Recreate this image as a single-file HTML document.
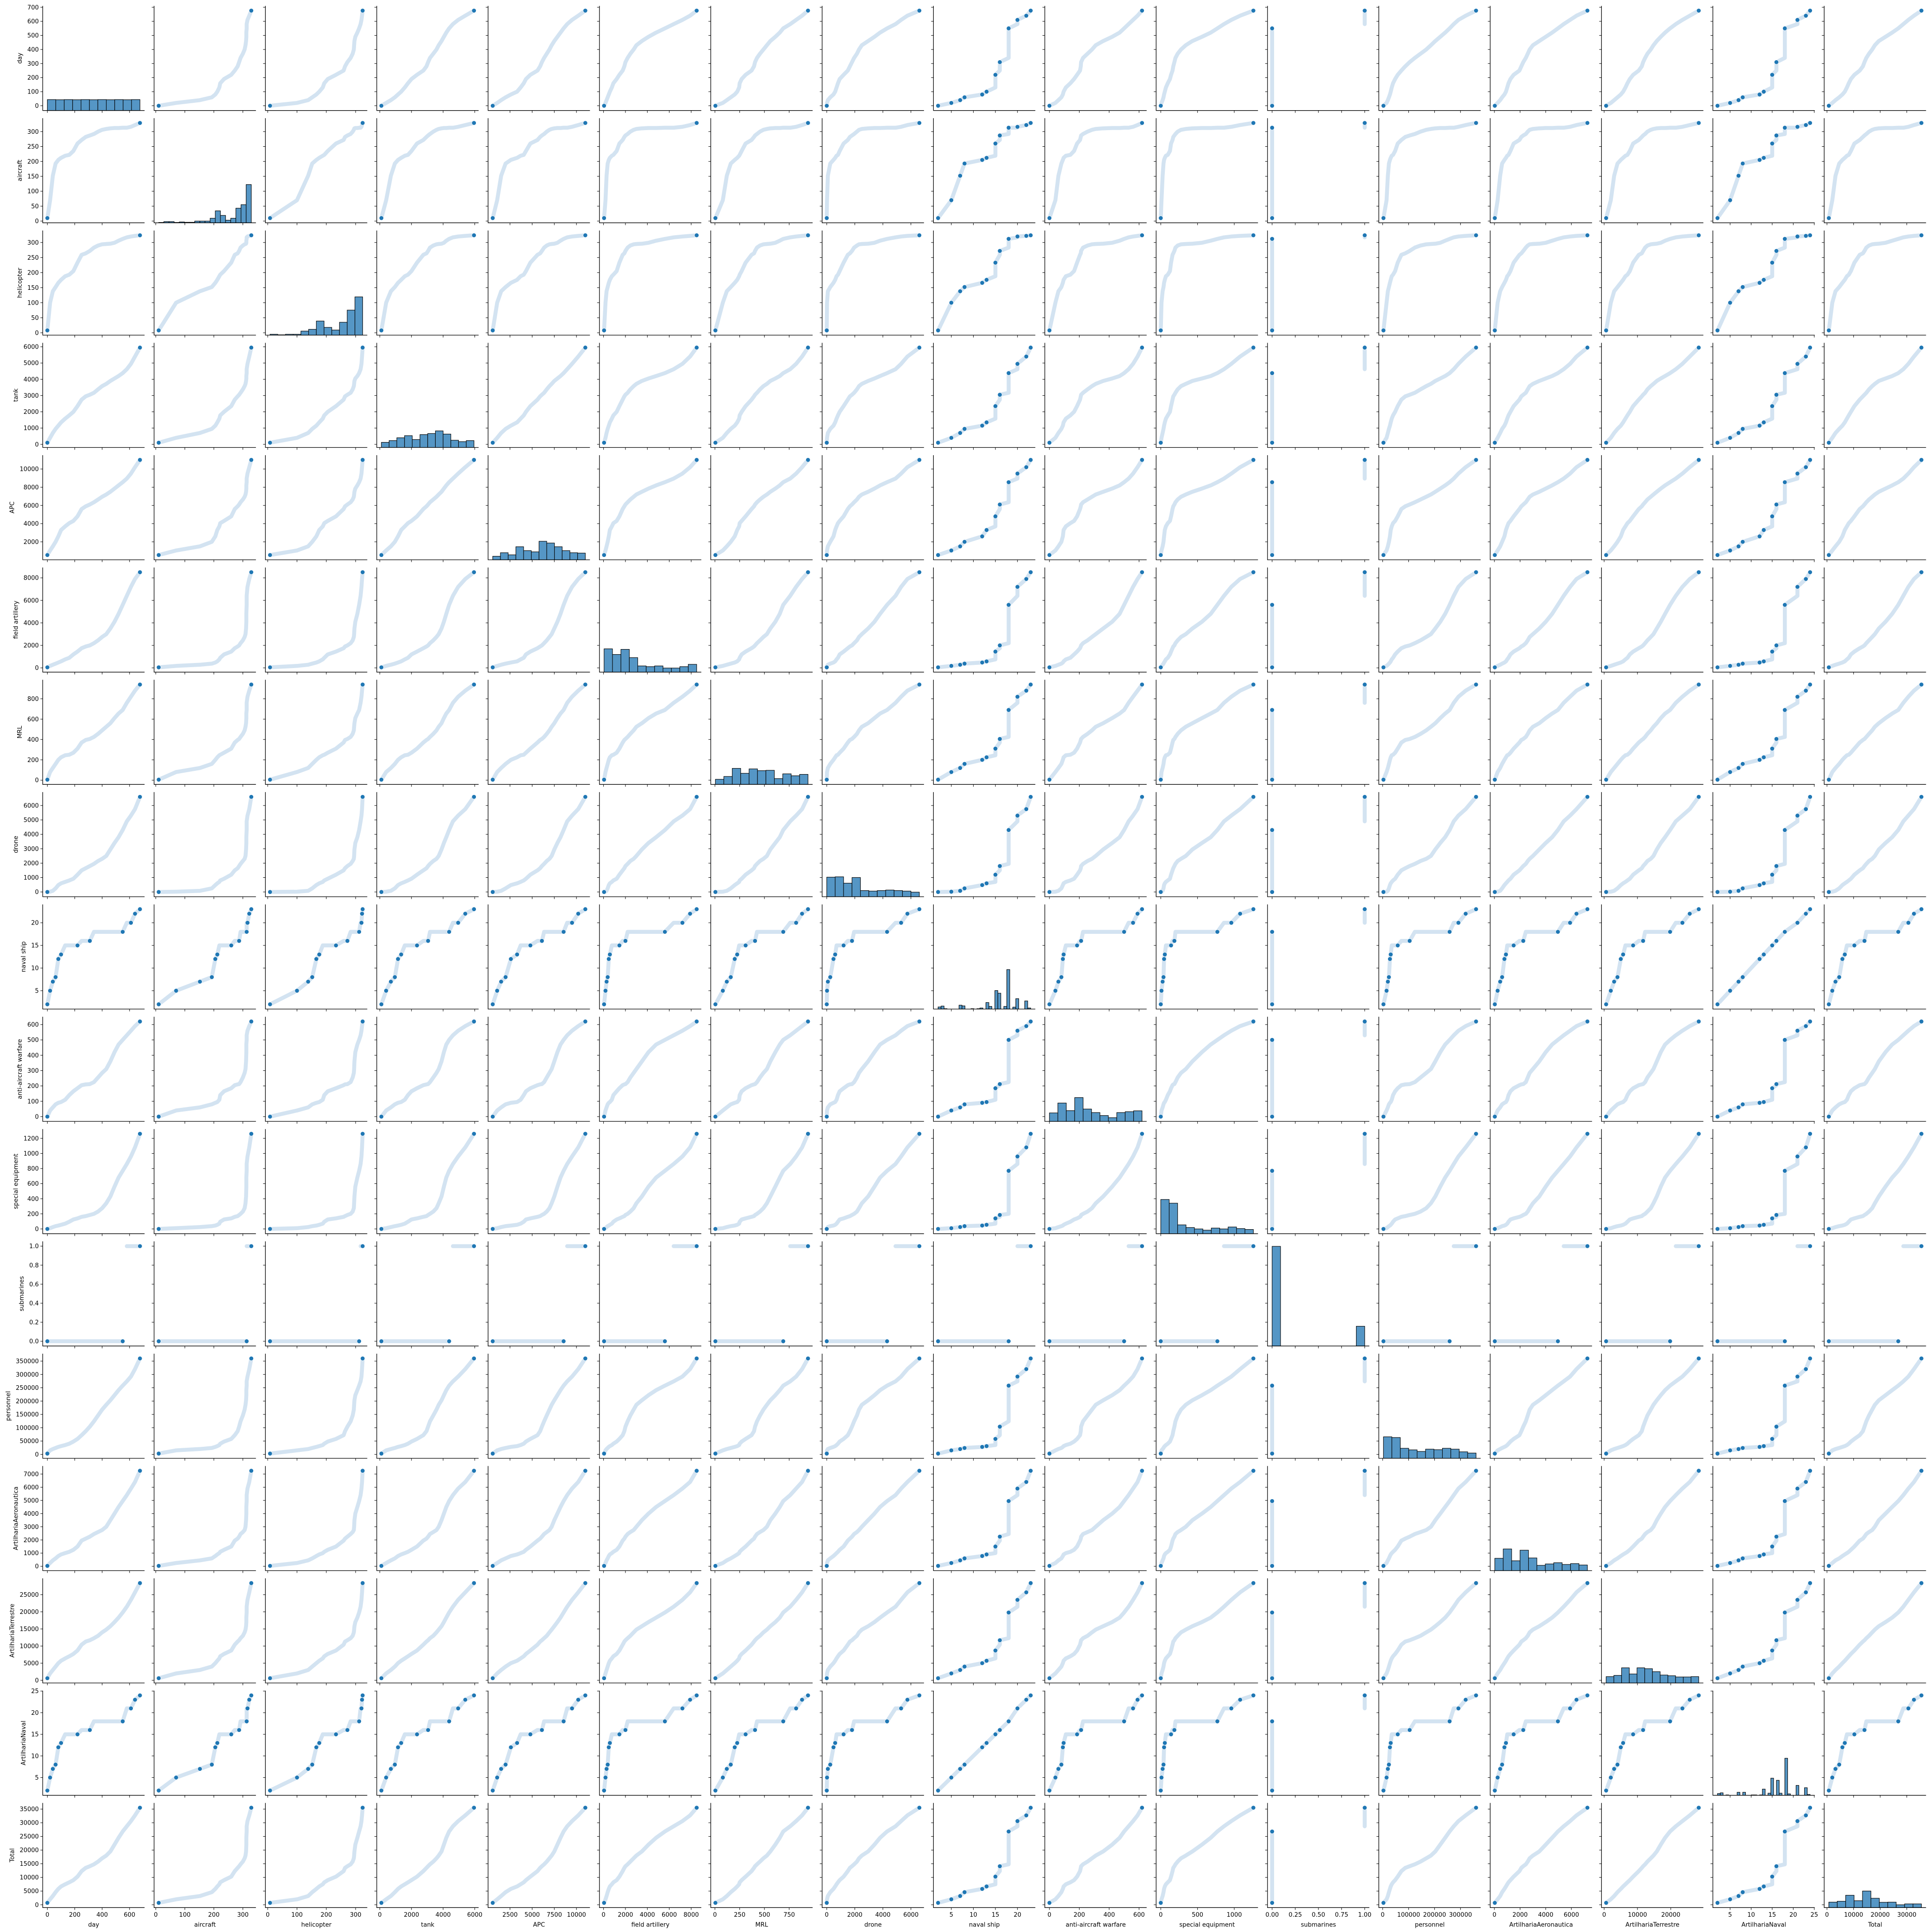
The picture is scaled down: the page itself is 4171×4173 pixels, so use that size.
<!DOCTYPE html>
<html>
<head>
<meta charset="utf-8">
<style>
html,body{margin:0;padding:0;background:#fff;}
svg{display:block;font-family:"DejaVu Sans","Liberation Sans",sans-serif;}
</style>
</head>
<body>
<svg id="chart" xmlns="http://www.w3.org/2000/svg" width="4171" height="4173" viewBox="0 0 4171 4173">
<rect x="0" y="0" width="4171" height="4173" fill="#fff"/>
</svg>
<script>
// ---- data: sampled days and variable values at those days ----
const days = [0,20,40,60,80,100,130,160,190,220,250,280,310,340,370,400,430,460,490,520,550,580,610,640,676];
const aircraft = [10,70,152,193,205,212,219,222,235,260,272,282,287,292,300,306,309,311,312,312,313,313,316,322,329];
const helicopter = [8,100,138,152,166,176,188,193,205,233,259,264,272,283,290,294,295,296,299,306,312,317,320,322,324];
const tank = [100,400,700,950,1150,1350,1580,1780,2000,2350,2750,2950,3050,3170,3380,3580,3720,3900,4050,4200,4380,4620,4950,5400,5950];
const apc = [550,1050,1500,2000,2600,3300,3700,4050,4300,4800,5600,5900,6100,6350,6650,6950,7200,7500,7850,8200,8550,8950,9500,10200,11000];
const fieldArtillery = [50,180,280,380,480,580,760,900,1200,1450,1750,1900,2000,2200,2450,2750,3000,3500,4100,4800,5600,6400,7200,7900,8500];
const mrl = [5,80,120,160,200,225,245,250,270,310,370,395,405,425,455,490,525,560,610,655,690,760,820,880,940];
const drone = [0,20,80,250,480,600,700,800,920,1200,1500,1650,1800,1950,2150,2300,2500,2950,3400,3800,4300,4900,5300,5750,6600];
const navalShip = [2,5,7,8,12,13,15,15,15,15,16,16,16,18,18,18,18,18,18,18,18,20,20,22,23];
const antiAircraft = [0,40,60,80,90,95,110,140,165,185,205,210,212,225,255,285,310,360,420,470,500,530,560,590,620];
const specialEquipment = [0,10,25,37,45,55,70,95,125,140,160,170,185,200,230,275,340,430,560,680,770,860,960,1080,1260];
const submarines = [0,0,0,0,0,0,0,0,0,0,0,0,0,0,0,0,0,0,0,0,0,1,1,1,1];
const personnel = [3000,15000,20000,24000,28000,31000,35000,40000,48000,58000,72000,87000,104000,124000,146000,168000,186000,203000,222000,241000,258000,274000,292000,320000,360000];
const artAero = [30,250,450,600,780,900,1000,1100,1250,1500,1950,2100,2250,2450,2600,2750,3000,3500,4000,4500,4950,5400,5900,6400,7250];
const artTerr = [600,2000,3000,4000,5000,5700,6400,7000,7700,8700,10400,11300,11700,12300,13000,14000,14800,15800,17000,18300,19800,21500,23500,25700,28400];
const artNaval = [2,5,7,8,12,13,15,15,15,15,16,16,16,18,18,18,18,18,18,18,18,21,21,23,24];
const total = [700,2000,3200,4600,5800,6700,7500,8200,9000,10300,12300,13500,14100,14800,15800,17000,18000,19500,22000,24500,26800,28700,30600,32700,35500];

// ---- histogram counts (diagonal) ----
const histDay = [62,61,62,61,62,61,62,61,62,61,62];
const histAircraft = [2,7,7,2,5,3,3,10,10,10,26,68,42,15,26,83,103,217];
const histHelicopter = [5,2,5,5,23,33,80,44,29,73,142,217];
const histTank = [29,39,55,67,45,73,79,94,76,41,33,39];
const histApc = [20,40,28,74,52,45,105,95,74,52,40,38];
const histFieldArtillery = [132,100,129,82,35,31,35,23,23,31,44];
const histMrl = [29,45,91,63,88,78,80,33,60,49,57];
const histDrone = [111,113,77,109,35,32,35,38,35,32,26];
const histNavalShip = [12,17,2,0,0,0,0,22,18,0,0,2,0,2,6,0,37,15,0,105,90,0,15,224,0,11,59,0,0,46,6];
const histAntiAircraft = [48,104,61,135,70,50,33,21,50,55,60];
const histSpecialEquipment = [194,173,50,35,27,20,32,27,38,29,24];
const histSubmarines = [565,0,0,0,0,0,0,0,0,0,112];
const histPersonnel = [122,118,57,48,39,52,49,57,52,37,30];
const histArtAero = [70,123,56,116,72,30,38,45,35,40,32];
const histArtTerr = [36,43,86,51,86,81,64,45,41,34,34,36];
const histArtNaval = [10,14,0,2,0,0,0,17,0,17,0,0,2,2,0,2,35,0,12,97,0,85,12,0,210,8,0,0,56,0,0,43,5];
const histTotal = [31,36,70,39,94,53,30,31,16,21,21];

// ---- names and ticks ----
const varNames = ["day","aircraft","helicopter","tank","APC","field artillery","MRL","drone","naval ship","anti-aircraft warfare","special equipment","submarines","personnel","ArtilhariaAeronautica","ArtilhariaTerrestre","ArtilhariaNaval","Total"];
const yTickValues = [
 [0,100,200,300,400,500,600,700],[0,50,100,150,200,250,300],[0,50,100,150,200,250,300],[0,1000,2000,3000,4000,5000,6000],
 [0,2000,4000,6000,8000,10000],[0,2000,4000,6000,8000],[0,200,400,600,800],[0,1000,2000,3000,4000,5000,6000],
 [5,10,15,20],[0,100,200,300,400,500,600],[0,200,400,600,800,1000,1200],[0,0.2,0.4,0.6,0.8,1.0],
 [0,50000,100000,150000,200000,250000,300000,350000],[0,1000,2000,3000,4000,5000,6000,7000],[0,5000,10000,15000,20000,25000],[5,10,15,20,25],[0,5000,10000,15000,20000,25000,30000,35000]];
const yTickLabels = [
 ["0","100","200","300","400","500","600","700"],["0","50","100","150","200","250","300"],["0","50","100","150","200","250","300"],["0","1000","2000","3000","4000","5000","6000"],
 ["0","2000","4000","6000","8000","10000"],["0","2000","4000","6000","8000"],["0","200","400","600","800"],["0","1000","2000","3000","4000","5000","6000"],
 ["5","10","15","20"],["0","100","200","300","400","500","600"],["0","200","400","600","800","1000","1200"],["0.0","0.2","0.4","0.6","0.8","1.0"],
 ["0","50000","100000","150000","200000","250000","300000","350000"],["0","1000","2000","3000","4000","5000","6000","7000"],["0","5000","10000","15000","20000","25000"],["5","10","15","20","25"],["0","5000","10000","15000","20000","25000","30000","35000"]];
const xTickValues = [
 [0,200,400,600],[0,100,200,300],[0,100,200,300],[0,2000,4000,6000],[0,2500,5000,7500,10000],[0,2000,4000,6000,8000],
 [0,250,500,750],[0,2000,4000,6000],[5,10,15,20],[0,200,400,600],[0,500,1000],[0,0.25,0.5,0.75,1.0],
 [0,100000,200000,300000],[0,2000,4000,6000],[0,10000,20000],[5,10,15,20,25],[0,10000,20000,30000]];
const xTickLabels = [
 ["0","200","400","600"],["0","100","200","300"],["0","100","200","300"],["0","2000","4000","6000"],["0","2500","5000","7500","10000"],["0","2000","4000","6000","8000"],
 ["0","250","500","750"],["0","2000","4000","6000"],["5","10","15","20"],["0","200","400","600"],["0","500","1000"],["0.00","0.25","0.50","0.75","1.00"],
 ["0","100000","200000","300000"],["0","2000","4000","6000"],["0","10000","20000"],["5","10","15","20","25"],["0","10000","20000","30000"]];

const series = [days,aircraft,helicopter,tank,apc,fieldArtillery,mrl,drone,navalShip,antiAircraft,specialEquipment,submarines,personnel,artAero,artTerr,artNaval,total];
const hists = [histDay,histAircraft,histHelicopter,histTank,histApc,histFieldArtillery,histMrl,histDrone,histNavalShip,histAntiAircraft,histSpecialEquipment,histSubmarines,histPersonnel,histArtAero,histArtTerr,histArtNaval,histTotal];
const SUB = 11;
const STEP_VARS = [8, 15];

// ---- layout ----
const L0 = 92.3, PX = 240.5, W = 220, T0 = 12.7, PY = 242.6, H = 226;
const NS = "http://www.w3.org/2000/svg";
const svg = document.getElementById("chart");
const N = series.length;

const ranges = series.map(s => {
  const mn = Math.min(...s), mx = Math.max(...s);
  const pad = (mx - mn) * 0.05 || 0.5;
  return {min: mn, max: mx, lo: mn - pad, hi: mx + pad};
});
function xScale(v, vi, col) { const r = ranges[vi]; return L0 + PX * col + (v - r.lo) / (r.hi - r.lo) * W; }
function yScale(v, vi, row) { const r = ranges[vi]; return T0 + PY * row + H - (v - r.lo) / (r.hi - r.lo) * H; }
let maxCount = 0;
hists.forEach(h => h.forEach(c => { if (c > maxCount) maxCount = c; }));
const histTop = maxCount * 1.05;

function mk(tag, attrs, parent) {
  const e = document.createElementNS(NS, tag);
  for (const k in attrs) e.setAttribute(k, attrs[k]);
  (parent || svg).appendChild(e);
  return e;
}
function slug(s) { return s.toLowerCase().replace(/[^a-z0-9]+/g, "-"); }

for (let row = 0; row < N; row++) {
  for (let col = 0; col < N; col++) {
    const px0 = L0 + PX * col, py0 = T0 + PY * row;
    const g = mk("g", {});
    
    

    if (row === col) {
      const h = hists[row], r = ranges[row];
      const bw = (r.max - r.min) / h.length;
      for (let b = 0; b < h.length; b++) {
        if (h[b] <= 0) continue;
        const x1 = xScale(r.min + b * bw, row, col), x2 = xScale(r.min + (b + 1) * bw, row, col);
        const hh = h[b] / histTop * H;
        const bar = mk("rect", {x: x1, y: py0 + H - hh, width: Math.max(x2 - x1, 0.5), height: hh, fill: "#5596c5", stroke: "#000", "stroke-width": 1.1}, g);
        
        
      }
    } else {
      const xs = series[col], ys = series[row];
      const subPanel = (row === SUB || col === SUB);
      const stepPanel = STEP_VARS.includes(row) || STEP_VARS.includes(col);
      const pts = xs.map((v, k) => [xScale(v, col, col), yScale(ys[k], row, row)]);
      let d = "";
      for (let k = 0; k < pts.length; k++) {
        const brk = k > 0 && subPanel && submarines[k] !== submarines[k - 1];
        d += (k === 0 || brk ? "M" : "L") + pts[k][0].toFixed(1) + " " + pts[k][1].toFixed(1);
      }
      const band = mk("path", {d: d, fill: "none", stroke: "#d3e3f1", "stroke-width": 8.5, "stroke-linecap": "round", "stroke-linejoin": "round"}, g);
      
      
      for (let k = 0; k < pts.length; k++) {
        const prev = k > 0 ? Math.hypot(pts[k][0] - pts[k - 1][0], pts[k][1] - pts[k - 1][1]) : 99;
        const next = k < pts.length - 1 ? Math.hypot(pts[k][0] - pts[k + 1][0], pts[k][1] - pts[k + 1][1]) : 99;
        let show = (k === pts.length - 1) || (k === 0);
        if (subPanel) {
          show = show || (k < pts.length - 1 && submarines[k] !== submarines[k + 1]);
        } else if (stepPanel) {
          const sv = STEP_VARS.includes(col) ? xs : ys;
          const changeNext = k < pts.length - 1 && sv[k] !== sv[k + 1];
          show = show || (changeNext && next > 6);
        }
        if (show) {
          const dot = mk("circle", {cx: pts[k][0], cy: pts[k][1], r: 4.7, fill: "#1f77b4", stroke: "#fff", "stroke-width": 0.7}, g);
          
          
        }
      }
    }

    // spines
    const sp = mk("path", {d: `M${px0} ${py0}V${py0 + H}H${px0 + W}`, fill: "none", stroke: "#000", "stroke-width": 1.3}, g);
    
    

    // y ticks (row variable)
    const yt = yTickValues[row];
    for (let t = 0; t < yt.length; t++) {
      const y = yScale(yt[t], row, row);
      if (y < py0 - 0.5 || y > py0 + H + 0.5) continue;
      const tk = mk("line", {x1: px0 - 5, y1: y, x2: px0, y2: y, stroke: "#000", "stroke-width": 1}, g);
      
      
      if (col === 0) {
        const tl = mk("text", {x: px0 - 8.5, y: y + 4.6, "text-anchor": "end", "font-size": 13, fill: "#000"}, g);
        
        
        tl.textContent = yTickLabels[row][t];
      }
    }
    // x ticks (col variable)
    const xt = xTickValues[col];
    for (let t = 0; t < xt.length; t++) {
      const x = xScale(xt[t], col, col);
      if (x < px0 - 0.5 || x > px0 + W + 0.5) continue;
      const tk = mk("line", {x1: x, y1: py0 + H, x2: x, y2: py0 + H + 5, stroke: "#000", "stroke-width": 1}, g);
      
      
      if (row === N - 1) {
        const tl = mk("text", {x: x, y: py0 + H + 19.5, "text-anchor": "middle", "font-size": 13, fill: "#000"}, g);
        
        
        tl.textContent = xTickLabels[col][t];
      }
    }
  }
}

// axis titles
for (let i = 0; i < N; i++) {
  const cx = L0 + PX * i + W / 2;
  const xt = mk("text", {x: cx, y: T0 + PY * (N - 1) + H + 41, "text-anchor": "middle", "font-size": 13, fill: "#000"});
  
  
  xt.textContent = varNames[i];

  let maxLen = 0;
  yTickLabels[i].forEach(s => { maxLen = Math.max(maxLen, s.replace(".", "").length * 8.3 + (s.includes(".") ? 4.1 : 0)); });
  const cy = T0 + PY * i + H / 2;
  const tx = L0 - 8.5 - maxLen - 12;
  const yt = mk("text", {x: tx, y: cy, "text-anchor": "middle", "font-size": 13, fill: "#000", transform: `rotate(-90 ${tx} ${cy})`});
  
  
  yt.textContent = varNames[i];
}
</script>
</body>
</html>
